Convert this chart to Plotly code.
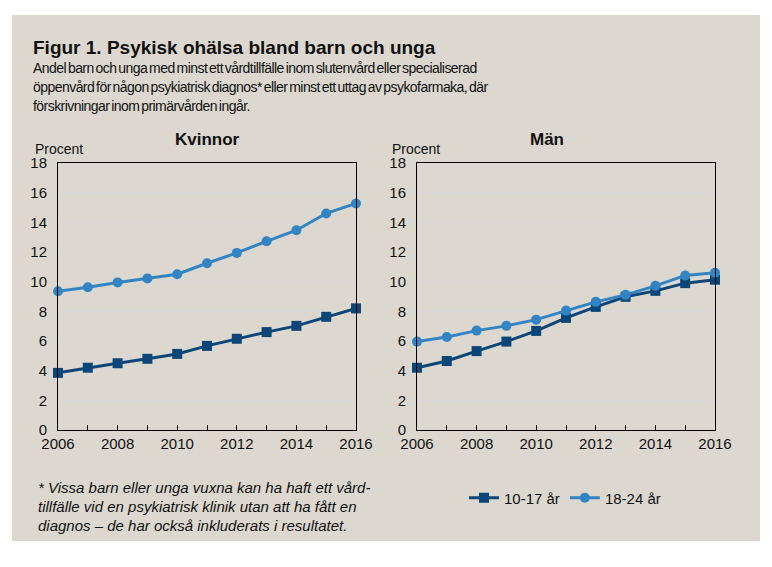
import plotly.graph_objects as go

years = [2006, 2007, 2008, 2009, 2010, 2011, 2012, 2013, 2014, 2015, 2016]
kvinnor_10_17 = [3.85, 4.2, 4.5, 4.8, 5.13, 5.67, 6.15, 6.6, 7.02, 7.63, 8.2]
kvinnor_18_24 = [9.35, 9.62, 9.95, 10.22, 10.5, 11.24, 11.94, 12.72, 13.47, 14.6, 15.27]
man_10_17 = [4.2, 4.65, 5.32, 5.96, 6.68, 7.56, 8.3, 8.98, 9.38, 9.9, 10.13]
man_18_24 = [5.96, 6.27, 6.7, 7.02, 7.44, 8.05, 8.64, 9.11, 9.72, 10.42, 10.6]
series_names = ["10-17 år", "18-24 år"]
panel_titles = ["Kvinnor", "Män"]
y_ticks = [0, 2, 4, 6, 8, 10, 12, 14, 16, 18]
x_ticks = [2006, 2008, 2010, 2012, 2014, 2016]

DARK = "#0c4678"
LIGHT = "#3384c4"
BG = "#dcd8cf"
FONT = "Liberation Sans"
TIGHT = "letter-spacing:-0.55px;word-spacing:-1.5px"

# page body has an 8px margin; figure is sized so the page is 772x567
OFF = 8
W, H = 772 - 2 * OFF, 567 - 2 * OFF

def px_x(p):
    return (p - OFF) / W

def px_y(p):
    return 1 - (p - OFF) / H

fig = go.Figure()

for i, (a, b) in enumerate([(kvinnor_10_17, kvinnor_18_24), (man_10_17, man_18_24)]):
    xa = "x" if i == 0 else "x2"
    ya = "y" if i == 0 else "y2"
    fig.add_trace(go.Scatter(x=years, y=a, name=series_names[0], mode="lines+markers",
                             line=dict(color=DARK, width=3),
                             marker=dict(symbol="square", size=10, color=DARK),
                             cliponaxis=False, xaxis=xa, yaxis=ya, showlegend=(i == 0)))
    fig.add_trace(go.Scatter(x=years, y=b, name=series_names[1], mode="lines+markers",
                             line=dict(color=LIGHT, width=3),
                             marker=dict(symbol="circle", size=10, color=LIGHT),
                             cliponaxis=False, xaxis=xa, yaxis=ya, showlegend=(i == 0)))

axis_common_x = dict(range=[2006, 2016], tickvals=x_ticks, ticks="inside", ticklen=5,
                     tickcolor="black", showline=True, linecolor="black", linewidth=1,
                     mirror=True, showgrid=False, zeroline=False, automargin=False,
                     minor=dict(dtick=1, ticks="inside", ticklen=5, tickcolor="black", showgrid=False),
                     tickfont=dict(family=FONT, size=15, color="#111"))
axis_common_y = dict(range=[0, 18], tickvals=y_ticks, ticks="", showline=True,
                     linecolor="black", linewidth=1, mirror=True, showgrid=True,
                     gridcolor="#d9d9d9", gridwidth=1, zeroline=False, automargin=False,
                     tickfont=dict(family=FONT, size=15, color="#111"), ticklabelstandoff=7)

top, bottom = 163, 430
fig.update_layout(
    width=W, height=H,
    margin=dict(l=0, r=0, t=0, b=0, pad=0),
    paper_bgcolor="white",
    plot_bgcolor="white",
    xaxis=dict(domain=[px_x(58), px_x(356)], anchor="y", **axis_common_x),
    yaxis=dict(domain=[px_y(bottom), px_y(top)], anchor="x", **axis_common_y),
    xaxis2=dict(domain=[px_x(417), px_x(715)], anchor="y2", **axis_common_x),
    yaxis2=dict(domain=[px_y(bottom), px_y(top)], anchor="x2", **axis_common_y),
    showlegend=True,
    legend=dict(orientation="h", x=px_x(464), y=px_y(498), xanchor="left", yanchor="middle",
                bgcolor="rgba(0,0,0,0)", font=dict(family=FONT, size=15, color="#111"),
                itemwidth=30, tracegroupgap=0),
    shapes=[dict(type="rect", xref="paper", yref="paper", x0=px_x(12), x1=px_x(760),
                 y0=px_y(541), y1=px_y(15), fillcolor=BG, line=dict(width=0), layer="below")],
)

ann = []
ann.append(dict(text="<b>Figur 1. Psykisk ohälsa bland barn och unga</b>", x=px_x(31), y=px_y(47),
                xanchor="left", yanchor="middle", showarrow=False, xref="paper", yref="paper",
                font=dict(family=FONT, size=19, color="#111")))
sub = ["Andel barn och unga med minst ett vårdtillfälle inom slutenvård eller specialiserad",
       "öppenvård för någon psykiatrisk diagnos* eller minst ett uttag av psykofarmaka, där",
       "förskrivningar inom primärvården ingår."]
for k, s in enumerate(sub):
    ann.append(dict(text='<span style="' + TIGHT + '">' + s + "</span>", x=px_x(31), y=px_y(68 + 19 * k),
                    xanchor="left", yanchor="middle",
                    showarrow=False, xref="paper", yref="paper",
                    font=dict(family=FONT, size=14, color="#111")))
for cx, t in [(207, panel_titles[0]), (547, panel_titles[1])]:
    ann.append(dict(text="<b>" + t + "</b>", x=px_x(cx), y=px_y(139), xanchor="center", yanchor="middle",
                    showarrow=False, xref="paper", yref="paper",
                    font=dict(family=FONT, size=17, color="#111")))
for lx in [33, 390]:
    ann.append(dict(text="Procent", x=px_x(lx), y=px_y(149), xanchor="left", yanchor="middle",
                    showarrow=False, xref="paper", yref="paper",
                    font=dict(family=FONT, size=14, color="#111")))
foot = ["* Vissa barn eller unga vuxna kan ha haft ett vård-",
        "tillfälle vid en psykiatrisk klinik utan att ha fått en",
        "diagnos – de har också inkluderats i resultatet."]
for k, s in enumerate(foot):
    ann.append(dict(text="<i>" + s + "</i>", x=px_x(36), y=px_y(487 + 19 * k), xanchor="left", yanchor="middle",
                    showarrow=False, xref="paper", yref="paper",
                    font=dict(family=FONT, size=15, color="#111")))
fig.update_layout(annotations=ann)

fig.write_html("out.html")
